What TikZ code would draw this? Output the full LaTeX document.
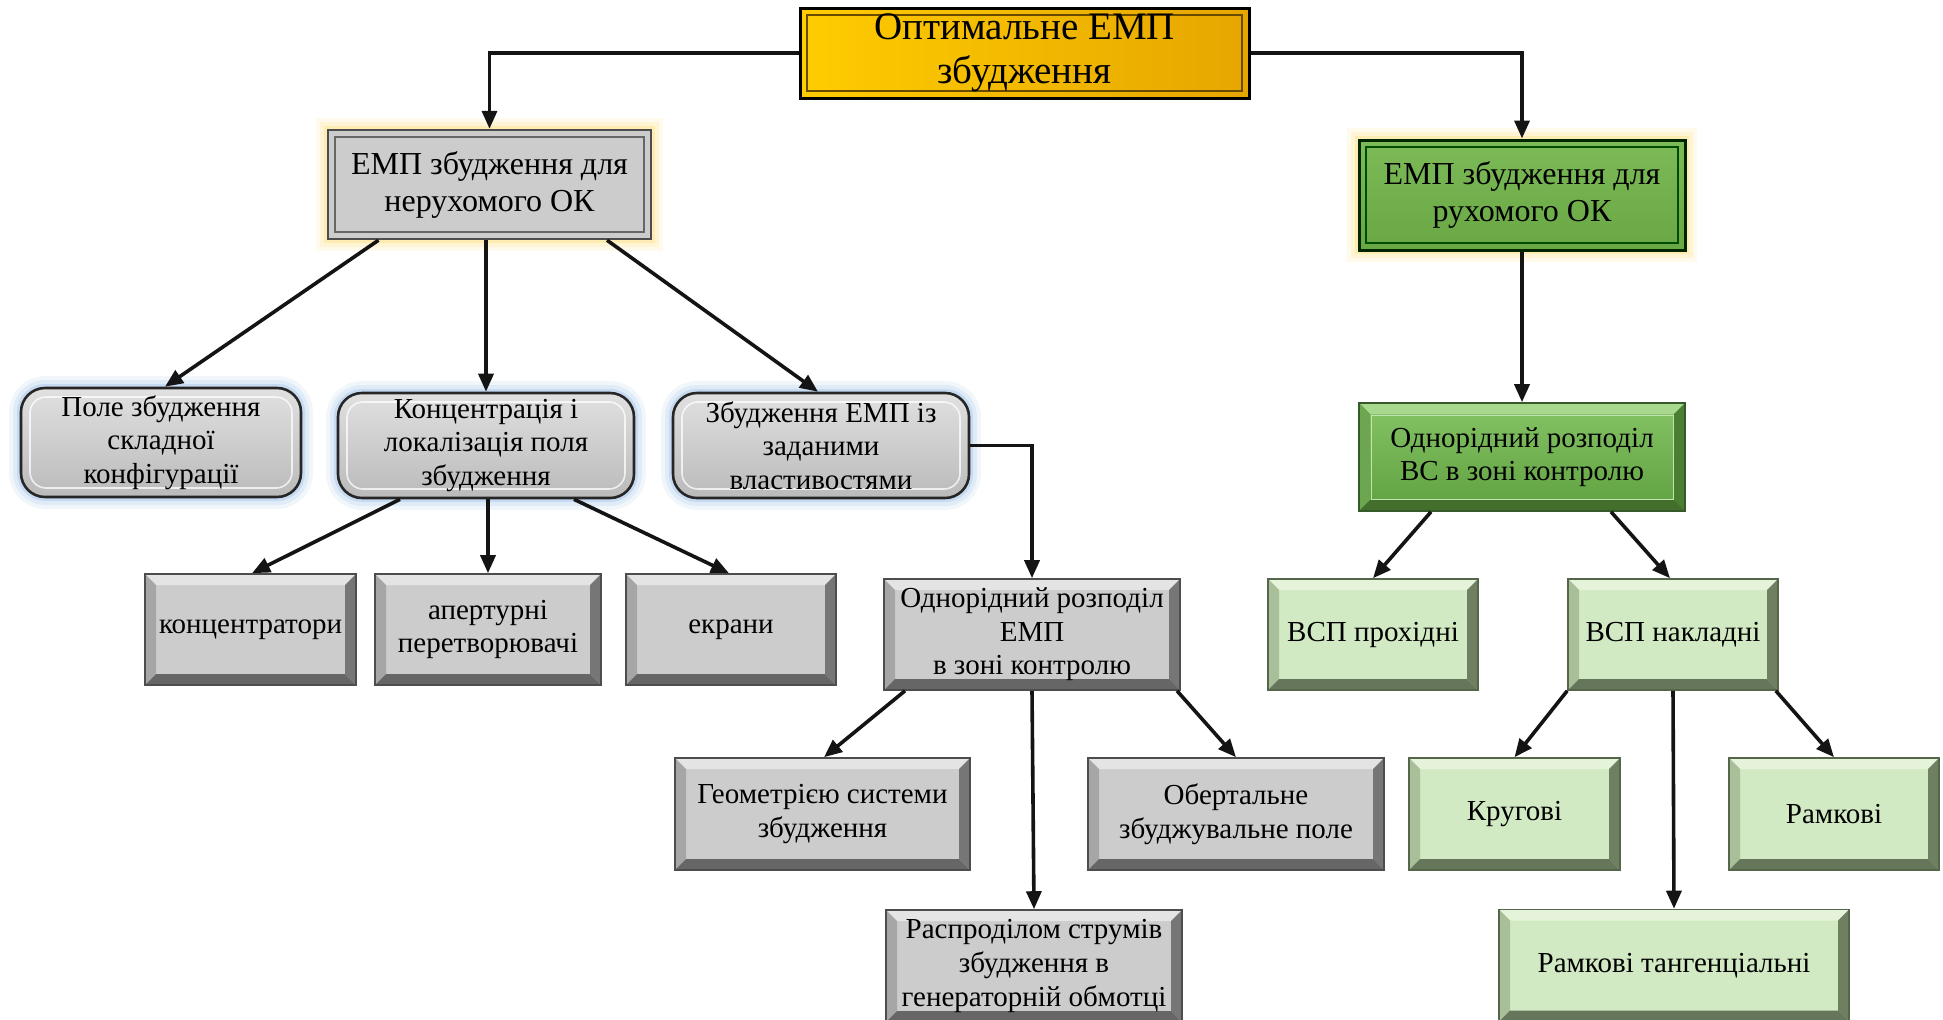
\documentclass[tikz,border=0pt]{standalone}
\usepackage{fontspec}
\setmainfont{Liberation Serif}
\usetikzlibrary{arrows.meta,calc}

\definecolor{gface}{HTML}{CCCCCC}
\definecolor{gtop}{HTML}{E4E4E4}
\definecolor{gleft}{HTML}{A6A6A6}
\definecolor{gright}{HTML}{767676}
\definecolor{gbot}{HTML}{666666}
\definecolor{gline}{HTML}{4D4D4D}
\definecolor{lface}{HTML}{D2EAC3}
\definecolor{ltop}{HTML}{E5F3DB}
\definecolor{lleft}{HTML}{A9BF9A}
\definecolor{lright}{HTML}{6F7F62}
\definecolor{lbot}{HTML}{66765A}
\definecolor{lline}{HTML}{55664A}
\definecolor{mfacet}{HTML}{86C466}
\definecolor{mfaceb}{HTML}{5FA03F}
\definecolor{mtop}{HTML}{A8D78E}
\definecolor{mleft}{HTML}{6DA650}
\definecolor{mright}{HTML}{4A7E32}
\definecolor{mbot}{HTML}{426F2C}
\definecolor{mline}{HTML}{35592A}
\definecolor{glowY}{HTML}{FFD966}
\definecolor{glowB}{HTML}{8DB6E2}
\definecolor{goldL}{HTML}{FFCC00}
\definecolor{goldR}{HTML}{E6A600}
\definecolor{greenT}{HTML}{7DBA58}
\definecolor{greenB}{HTML}{68A744}

\newcommand\fsmall{\fontsize{14.5}{16.8}\selectfont}
\newcommand\fmid{\fontsize{16}{18.5}\selectfont}
\newcommand\fbig{\fontsize{19.5}{22}\selectfont}

\newcommand\bevelpic[5]{%
  \path (path picture bounding box.north west) coordinate (bvnw)
        (path picture bounding box.north east) coordinate (bvne)
        (path picture bounding box.south west) coordinate (bvsw)
        (path picture bounding box.south east) coordinate (bvse);
  \fill[#1] (bvnw) -- (bvne) -- ([shift={(-#5,-#5)}]bvne) -- ([shift={(#5,-#5)}]bvnw) -- cycle;
  \fill[#2] (bvnw) -- (bvsw) -- ([shift={(#5,#5)}]bvsw) -- ([shift={(#5,-#5)}]bvnw) -- cycle;
  \fill[#3] (bvne) -- (bvse) -- ([shift={(-#5,#5)}]bvse) -- ([shift={(-#5,-#5)}]bvne) -- cycle;
  \fill[#4] (bvsw) -- (bvse) -- ([shift={(-#5,#5)}]bvse) -- ([shift={(#5,#5)}]bvsw) -- cycle;
}
\newcommand\innerframe[3]{%
  \draw[#1, line width=#2] ([shift={(#3,-#3)}]path picture bounding box.north west)
     rectangle ([shift={(-#3,#3)}]path picture bounding box.south east);
}

\tikzset{
  basebox/.style={align=center, inner sep=0pt, text=black},
  glow/.style={preaction={draw=#1, line width=12pt, opacity=0.12},
     preaction={draw=#1, line width=8pt, opacity=0.18},
     preaction={draw=#1, line width=4pt, opacity=0.3}},
  graybev/.style={basebox, draw=gline, line width=0.8pt, fill=gface, font=\fsmall,
     path picture={\bevelpic{gtop}{gleft}{gright}{gbot}{5.5pt}}},
  greenbev/.style={basebox, draw=lline, line width=0.8pt, fill=lface, font=\fsmall,
     path picture={\bevelpic{ltop}{lleft}{lright}{lbot}{5.5pt}}},
  midgreen/.style={basebox, draw=mline, line width=0.8pt, top color=mfacet, bottom color=mfaceb, font=\fsmall,
     path picture={\bevelpic{mtop}{mleft}{mright}{mbot}{5.5pt}\innerframe{mtop!70!white}{0.5pt}{6pt}}},
  roundbox/.style={basebox, rounded corners=12pt, draw=black!85, line width=1.3pt,
     top color=black!12, bottom color=black!27, font=\fsmall, glow=glowB,
     path picture={\draw[white, opacity=0.75, line width=0.8pt, rounded corners=8pt]
        ([shift={(4.5pt,-4.5pt)}]path picture bounding box.north west)
        rectangle ([shift={(-4.5pt,4.5pt)}]path picture bounding box.south east);}},
  grayframe/.style={basebox, draw=gline, line width=1.2pt, fill=gface, font=\fmid, glow=glowY,
     path picture={\innerframe{black!60}{0.9pt}{3.5pt}}},
  greenframe/.style={basebox, draw=black!85!green, line width=1.5pt, top color=greenT, bottom color=greenB, font=\fmid,
     glow=glowY, path picture={\innerframe{black!70!green}{0.9pt}{3.5pt}}},
  goldframe/.style={basebox, draw=black, line width=1.5pt, left color=goldL, right color=goldR, font=\fbig,
     path picture={\innerframe{black!55!goldR}{0.8pt}{3.5pt}}},
  arr/.style={line width=1.8pt, draw=black!92, -{Triangle[length=9pt,width=7.5pt]}},
}

\begin{document}
\begin{tikzpicture}[x=0.5pt,y=-0.5pt]
\useasboundingbox (0,0) rectangle (1943,1019);

% level 0
\node[goldframe, minimum width=224.5pt, minimum height=45pt] (top) at (1024.5,53) {Оптимальне ЕМП\\збудження};

% level 1
\node[grayframe, minimum width=161.5pt, minimum height=54.5pt] (fix) at (489.5,184.5) {ЕМП збудження для\\нерухомого ОК};
\node[greenframe, minimum width=163pt, minimum height=55pt] (mov) at (1522,195) {ЕМП збудження для\\рухомого ОК};

% level 2
\node[roundbox, minimum width=140pt, minimum height=54.5pt] (pole) at (161,442.5) {Поле збудження\\складної\\конфігурації};
\node[roundbox, minimum width=148pt, minimum height=52.5pt] (konc) at (486,445.5) {Концентрація і\\локалізація поля\\збудження};
\node[roundbox, minimum width=148pt, minimum height=52.5pt] (zbud) at (821,445.5) {Збудження ЕМП із\\заданими\\властивостями};
\node[midgreen, minimum width=163pt, minimum height=54pt] (vs) at (1522,457) {Однорідний розподіл\\ВС в зоні контролю};

% level 3
\node[graybev, minimum width=105.5pt, minimum height=55.5pt] (kontr) at (250.5,629.5) {концентратори};
\node[graybev, minimum width=113pt, minimum height=55.5pt] (apert) at (488,629.5) {апертурні\\перетворювачі};
\node[graybev, minimum width=105pt, minimum height=55.5pt] (ekr) at (731,629.5) {екрани};
\node[graybev, minimum width=148pt, minimum height=55.5pt] (odn) at (1032,634.5) {Однорідний розподіл\\ЕМП\\в зоні контролю};
\node[greenbev, minimum width=105pt, minimum height=55.5pt] (prox) at (1373,634.5) {ВСП прохідні};
\node[greenbev, minimum width=105pt, minimum height=55.5pt] (nakl) at (1673,634.5) {ВСП накладні};

% level 4
\node[graybev, minimum width=147.5pt, minimum height=56pt] (geom) at (822.5,814) {Геометрією системи\\збудження};
\node[graybev, minimum width=148pt, minimum height=56pt] (obert) at (1236,814) {Обертальне\\збуджувальне поле};
\node[greenbev, minimum width=105.5pt, minimum height=56pt] (krug) at (1514.5,814) {Кругові};
\node[greenbev, minimum width=105pt, minimum height=56pt] (ramk) at (1834,814) {Рамкові};

% level 5
\node[graybev, minimum width=148pt, minimum height=56pt] (rozp) at (1034,966) {Распроділом струмів\\збудження в\\генераторній обмотці};
\node[greenbev, minimum width=175pt, minimum height=56pt] (tang) at (1674,965.5) {Рамкові тангенціальні};

% connectors
\draw[arr] (top.west) -| (fix.north);
\draw[arr] (top.east) -| (mov.north);

\draw[arr] ($(fix.south)+(-55.5pt,0)$) -- ($(pole.north)+(2pt,0)$);
\draw[arr] (konc.north |- fix.south) -- (konc.north);
\draw[arr] ($(fix.south)+(58.75pt,0)$) -- ($(zbud.north)+(-1.5pt,0)$);

\draw[arr] (mov.south) -- (vs.north);

\draw[arr] ($(konc.south)+(-43pt,0)$) -- ($(kontr.north)+(0.75pt,0)$);
\draw[arr] (apert.north |- konc.south) -- (apert.north);
\draw[arr] ($(konc.south)+(44pt,0)$) -- ($(ekr.north)+(-1pt,0)$);

\draw[arr] (zbud.east) -| (odn.north);

\draw[arr] ($(odn.south)+(-63.5pt,0)$) -- ($(geom.north)+(0.75pt,0)$);
\draw[arr] (odn.south) -- (rozp.north);
\draw[arr] ($(odn.south)+(72.5pt,0)$) -- (obert.north);

\draw[arr] ($(vs.south)+(-45.5pt,0)$) -- (prox.north);
\draw[arr] ($(vs.south)+(44.5pt,0)$) -- ($(nakl.north)+(-1.5pt,0)$);

\draw[arr] (nakl.south west) -- (krug.north);
\draw[arr] (nakl.south) -- (tang.north);
\draw[arr] ($(nakl.south east)+(-1.5pt,0)$) -- (ramk.north);
\end{tikzpicture}
\end{document}
